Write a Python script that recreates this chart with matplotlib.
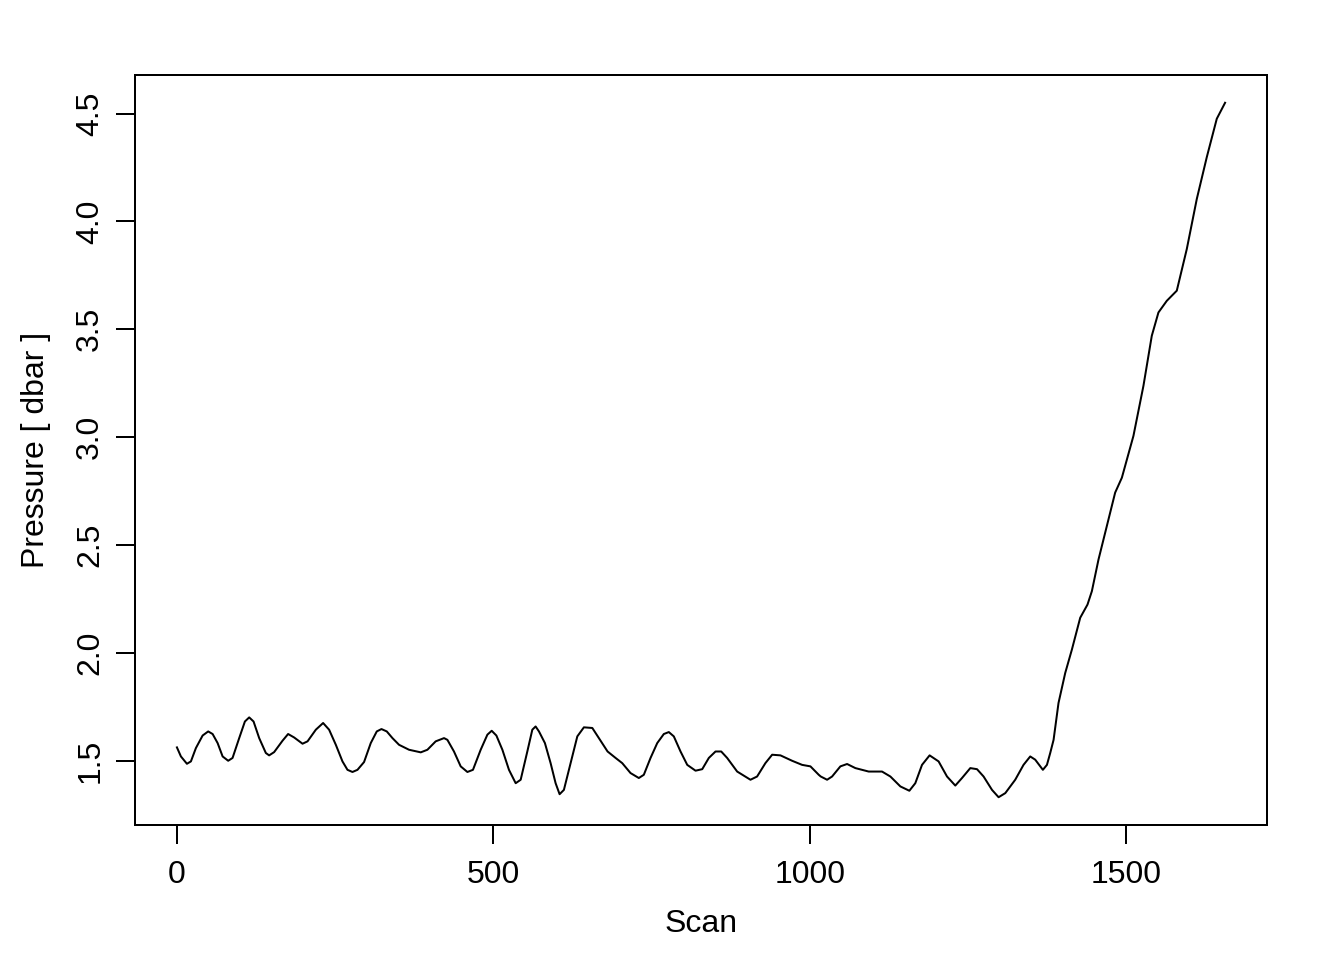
import matplotlib
matplotlib.use("Agg")
import matplotlib.pyplot as plt

scan = [0.0, 6.3, 15.8, 22.1, 30.0, 40.6, 49.4, 56.4, 64.3, 72.2, 81.0, 87.9,
        98.4, 107.4, 114.2, 121.1, 130.0, 140.5, 145.7, 153.6, 166.9, 175.7,
        185.2, 198.5, 206.4, 219.5, 231.0, 240.5, 251.1, 261.6, 269.5, 277.4,
        285.3, 295.7, 306.3, 315.8, 323.2, 331.6, 340.6, 351.0, 366.8, 385.3,
        395.8, 408.9, 422.1, 427.4, 437.8, 448.4, 459.0, 467.8, 480.0, 490.6,
        497.4, 504.8, 514.3, 524.7, 535.3, 543.2, 553.7, 561.6, 566.8, 572.1,
        581.5, 590.5, 598.4, 604.7, 611.5, 622.1, 632.7, 643.1, 656.4, 666.8,
        680.5, 693.2, 703.7, 716.8, 729.9, 737.8, 748.4, 759.0, 769.4, 777.3,
        785.2, 795.8, 806.4, 819.5, 830.1, 840.5, 851.1, 860.1, 869.5, 885.3,
        906.3, 916.8, 929.9, 940.6, 953.7, 972.1, 987.9, 1001.1, 1014.2,
        1017.4, 1027.4, 1035.3, 1048.4, 1059.0, 1072.1, 1093.1, 1114.2,
        1127.4, 1143.2, 1157.4, 1166.8, 1177.4, 1189.4, 1203.6, 1216.9,
        1230.0, 1240.6, 1253.7, 1264.3, 1274.7, 1288.0, 1298.4, 1309.0,
        1324.7, 1337.8, 1348.4, 1356.3, 1368.4, 1374.8, 1380.0, 1385.3,
        1393.1, 1403.7, 1414.2, 1427.4, 1438.9, 1445.8, 1456.3, 1482.6,
        1493.2, 1511.5, 1527.3, 1540.5, 1551.0, 1564.2, 1580.0, 1595.8,
        1611.6, 1627.4, 1643.2, 1656.3]
pressure = [1.562, 1.520, 1.486, 1.497, 1.559, 1.617, 1.636, 1.624, 1.582,
            1.520, 1.500, 1.513, 1.605, 1.682, 1.701, 1.682, 1.605, 1.536,
            1.525, 1.540, 1.593, 1.624, 1.608, 1.579, 1.590, 1.644, 1.675,
            1.644, 1.574, 1.497, 1.458, 1.448, 1.458, 1.494, 1.582, 1.636,
            1.647, 1.636, 1.605, 1.574, 1.551, 1.539, 1.551, 1.590, 1.605,
            1.597, 1.543, 1.474, 1.448, 1.458, 1.551, 1.621, 1.639, 1.617,
            1.551, 1.458, 1.396, 1.412, 1.543, 1.644, 1.659, 1.636, 1.582,
            1.489, 1.396, 1.345, 1.365, 1.489, 1.613, 1.655, 1.652, 1.605,
            1.543, 1.513, 1.489, 1.443, 1.420, 1.435, 1.513, 1.582, 1.624,
            1.633, 1.613, 1.543, 1.481, 1.454, 1.461, 1.513, 1.543, 1.543,
            1.513, 1.450, 1.412, 1.427, 1.489, 1.528, 1.525, 1.500, 1.481,
            1.474, 1.435, 1.427, 1.412, 1.427, 1.474, 1.485, 1.466, 1.450,
            1.450, 1.427, 1.381, 1.361, 1.396, 1.481, 1.525, 1.497, 1.427,
            1.385, 1.420, 1.466, 1.461, 1.427, 1.365, 1.331, 1.350, 1.412,
            1.481, 1.520, 1.505, 1.458, 1.481, 1.536, 1.597, 1.768, 1.907,
            2.015, 2.163, 2.224, 2.286, 2.433, 2.743, 2.812, 3.006, 3.238,
            3.470, 3.578, 3.632, 3.679, 3.872, 4.104, 4.298, 4.476, 4.550]

xticks = [0, 500, 1000, 1500]
yticks = [1.5, 2.0, 2.5, 3.0, 3.5, 4.0, 4.5]
ytick_labels = ["1.5", "2.0", "2.5", "3.0", "3.5", "4.0", "4.5"]

plt.rcParams['font.family'] = ['Liberation Sans', 'DejaVu Sans']
fig = plt.figure(figsize=(7, 5), dpi=192)
ax = fig.add_axes([135/1344, 1-825/960, (1267-135)/1344, (825-75)/960])
ax.plot(scan, pressure, color='black', lw=0.75, solid_joinstyle='round')

xr = max(scan) - min(scan)
ax.set_xlim(min(scan) - 0.04*xr, max(scan) + 0.04*xr)
yr = max(pressure) - min(pressure)
ax.set_ylim(min(pressure) - 0.04*yr, max(pressure) + 0.04*yr)

ax.set_xticks(xticks)
ax.set_xticklabels([str(t) for t in xticks])
ax.set_yticks(yticks)
ax.set_yticklabels(ytick_labels, rotation=90, va='center')
ax.tick_params(direction='out', length=7.2, width=0.75, labelsize=12)
ax.tick_params(axis='x', pad=6)
ax.tick_params(axis='y', pad=4)
for s in ax.spines.values():
    s.set_linewidth(0.75)
ax.set_xlabel("Scan", fontsize=12, labelpad=7)
ax.set_ylabel("Pressure [ dbar ]", fontsize=12, labelpad=9)
fig.savefig("out.png", dpi=192)
